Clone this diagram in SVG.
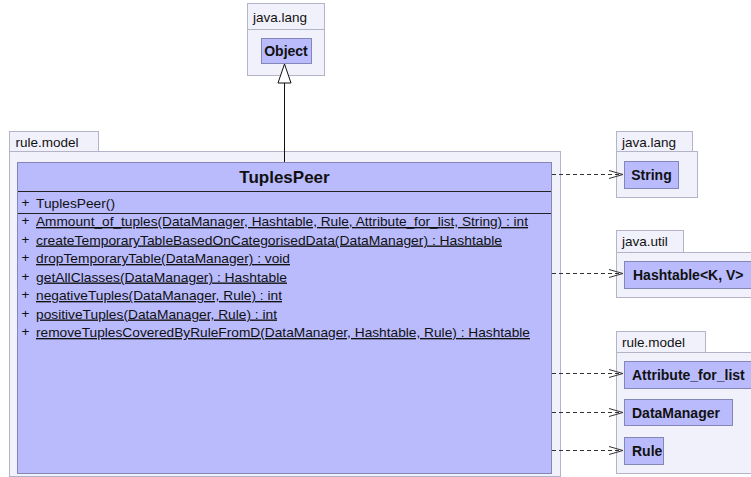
<svg xmlns="http://www.w3.org/2000/svg" width="751" height="477" viewBox="0 0 751 477">
  <style>
    .pkg { fill: #f1f1fb; stroke: #b4b4c8; stroke-width: 1; }
    .pkgLabel { font-family: "Liberation Sans", Arial, sans-serif; font-size: 13.5px; fill: #111; }
    .cls { fill: #b9bbfd; stroke: #8486b8; stroke-width: 1; }
    .clsName { font-family: "Liberation Sans", Arial, sans-serif; font-size: 14px; font-weight: bold; fill: #111; }
    .title { font-family: "Liberation Sans", Arial, sans-serif; font-size: 17px; font-weight: bold; fill: #111; }
    .member { font-family: "Liberation Sans", Arial, sans-serif; font-size: 13.5px; fill: #111; }
    .static { text-decoration: underline; }
    .sep { stroke: #222; stroke-width: 1; }
    .dep { stroke: #333; stroke-width: 1; stroke-dasharray: 4 3; fill: none; }
    .head { stroke: #333; stroke-width: 1; fill: none; }
  </style>
  <defs>
    <marker id="open" markerWidth="16" markerHeight="10" refX="14" refY="5" orient="auto" markerUnits="userSpaceOnUse">
      <path d="M0,1 L14,5 L0,9" class="head"/>
    </marker>
  </defs>

  <!-- java.lang (Object) -->
  <g id="pkg-java-lang-top">
    <rect class="pkg" x="247.5" y="3.5" width="77" height="26"/>
    <rect class="pkg" x="247.5" y="29.5" width="77" height="46"/>
    <text class="pkgLabel" x="253" y="22">java.lang</text>
  </g>
  <g id="Object">
    <rect class="cls" x="261.5" y="38.5" width="50" height="25"/>
    <text class="clsName" x="286" y="56" text-anchor="middle">Object</text>
  </g>

  <!-- rule.model (main) -->
  <g id="pkg-rule-model-main">
    <rect class="pkg" x="9.5" y="131.5" width="89" height="20"/>
    <rect class="pkg" x="9.5" y="151.5" width="551" height="325"/>
    <text class="pkgLabel" x="15.5" y="146.5">rule.model</text>
  </g>
  <g id="TuplesPeer">
    <rect class="cls" x="17.5" y="162.5" width="534" height="311"/>
    <text class="title" x="284.5" y="183" text-anchor="middle">TuplesPeer</text>
    <line class="sep" x1="18" y1="191.5" x2="551" y2="191.5"/>
    <line class="sep" x1="18" y1="213.5" x2="551" y2="213.5"/>
    <g class="member">
      <text x="21.5" y="207">+</text>
      <text x="36" y="208" textLength="79" lengthAdjust="spacingAndGlyphs">TuplesPeer()</text>
      <text x="21.5" y="225">+</text>
      <text x="36" y="226" class="static" textLength="492" lengthAdjust="spacingAndGlyphs">Ammount_of_tuples(DataManager, Hashtable, Rule, Attribute_for_list, String) : int</text>
      <text x="21.5" y="243.5">+</text>
      <text x="36" y="244.5" class="static" textLength="466" lengthAdjust="spacingAndGlyphs">createTemporaryTableBasedOnCategorisedData(DataManager) : Hashtable</text>
      <text x="21.5" y="262">+</text>
      <text x="36" y="263" class="static" textLength="254" lengthAdjust="spacingAndGlyphs">dropTemporaryTable(DataManager) : void</text>
      <text x="21.5" y="280.5">+</text>
      <text x="36" y="281.5" class="static" textLength="251" lengthAdjust="spacingAndGlyphs">getAllClasses(DataManager) : Hashtable</text>
      <text x="21.5" y="299">+</text>
      <text x="36" y="300" class="static" textLength="246" lengthAdjust="spacingAndGlyphs">negativeTuples(DataManager, Rule) : int</text>
      <text x="21.5" y="317.5">+</text>
      <text x="36" y="318.5" class="static" textLength="241" lengthAdjust="spacingAndGlyphs">positiveTuples(DataManager, Rule) : int</text>
      <text x="21.5" y="336">+</text>
      <text x="36" y="337" class="static" textLength="494" lengthAdjust="spacingAndGlyphs">removeTuplesCoveredByRuleFromD(DataManager, Hashtable, Rule) : Hashtable</text>
    </g>
  </g>

  <!-- java.lang (String) -->
  <g id="pkg-java-lang-right">
    <rect class="pkg" x="616.5" y="131.5" width="76" height="20"/>
    <rect class="pkg" x="616.5" y="151.5" width="81" height="46"/>
    <text class="pkgLabel" x="622" y="146.5">java.lang</text>
  </g>
  <g id="String">
    <rect class="cls" x="624.5" y="161.5" width="54" height="27"/>
    <text class="clsName" x="651.5" y="180" text-anchor="middle">String</text>
  </g>

  <!-- java.util -->
  <g id="pkg-java-util">
    <rect class="pkg" x="616.5" y="230.5" width="67" height="22"/>
    <rect class="pkg" x="616.5" y="252.5" width="150" height="45"/>
    <text class="pkgLabel" x="622" y="246">java.util</text>
  </g>
  <g id="Hashtable">
    <rect class="cls" x="624.5" y="261.5" width="135" height="27"/>
    <text class="clsName" x="633" y="280">Hashtable&lt;K, V&gt;</text>
  </g>

  <!-- rule.model (dependencies) -->
  <g id="pkg-rule-model-right">
    <rect class="pkg" x="616.5" y="331.5" width="89" height="21"/>
    <rect class="pkg" x="616.5" y="352.5" width="150" height="121"/>
    <text class="pkgLabel" x="622" y="346.5">rule.model</text>
  </g>
  <g id="Attribute_for_list">
    <rect class="cls" x="624.5" y="361.5" width="128" height="27"/>
    <text class="clsName" x="632" y="380">Attribute_for_list</text>
  </g>
  <g id="DataManager">
    <rect class="cls" x="624.5" y="399.5" width="108" height="26"/>
    <text class="clsName" x="632" y="418">DataManager</text>
  </g>
  <g id="Rule">
    <rect class="cls" x="624.5" y="437.5" width="39" height="27"/>
    <text class="clsName" x="632" y="456">Rule</text>
  </g>

  <!-- connectors -->
  <g id="connectors">
    <!-- generalization to Object -->
    <line x1="284.5" y1="83" x2="284.5" y2="162" stroke="#111" stroke-width="1"/>
    <path d="M284.5,64 L291,83 L278,83 Z" fill="#fff" stroke="#111" stroke-width="1"/>
    <!-- dependencies -->
    <line class="dep" x1="552" y1="174.5" x2="623" y2="174.5" marker-end="url(#open)"/>
    <line class="dep" x1="552" y1="273.5" x2="623" y2="273.5" marker-end="url(#open)"/>
    <line class="dep" x1="552" y1="373.5" x2="623" y2="373.5" marker-end="url(#open)"/>
    <line class="dep" x1="552" y1="412.5" x2="623" y2="412.5" marker-end="url(#open)"/>
    <line class="dep" x1="552" y1="450.5" x2="623" y2="450.5" marker-end="url(#open)"/>
  </g>
</svg>
